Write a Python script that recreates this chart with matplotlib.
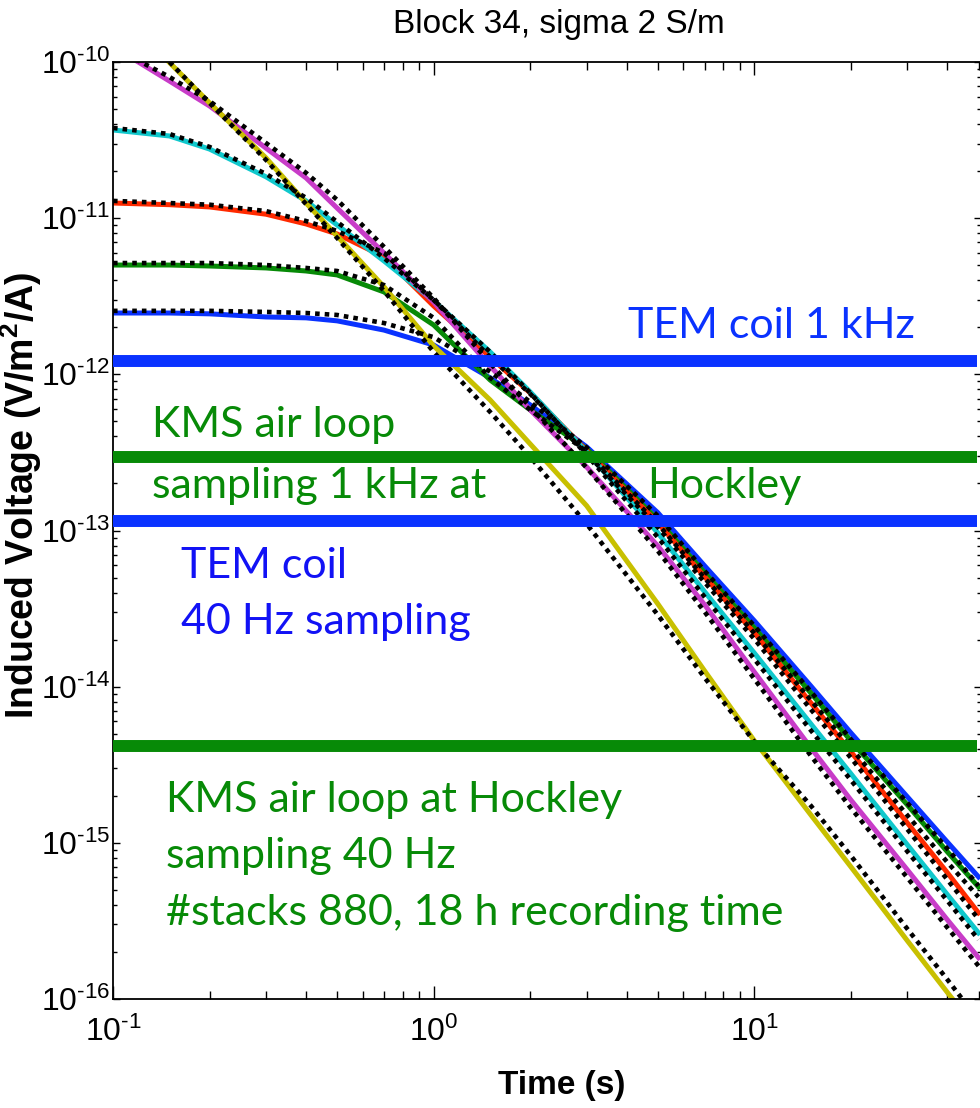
import matplotlib.pyplot as plt
from matplotlib.ticker import LogLocator, NullFormatter, FuncFormatter
import numpy as np

plt.rcParams['font.family'] = 'Liberation Sans'
plt.rcParams['mathtext.fontset'] = 'custom'
plt.rcParams['mathtext.rm'] = 'Liberation Sans'
plt.rcParams['mathtext.bf'] = 'Liberation Sans:bold'
plt.rcParams['mathtext.default'] = 'regular'

# sample times (s)
t_std = [0.1, 0.15, 0.2, 0.3, 0.4, 0.5, 0.7, 1, 1.5, 2, 3, 5, 7, 10, 15, 20, 30, 40, 50]
t_mag = [0.118, 0.15, 0.2, 0.3, 0.4, 0.5, 0.7, 1, 1.5, 2, 3, 5, 7, 10, 15, 20, 30, 40, 50]
t_yel = [0.148, 0.2, 0.3, 0.4, 0.5, 0.7, 1, 1.5, 2, 3, 5, 7, 10, 15, 20, 30, 40, 42]
t_yel_mod = [0.15, 0.2, 0.3, 0.4, 0.5, 0.7, 1, 1.5, 2, 3, 5, 7, 10, 15, 20, 30, 40, 45]

# measured decays (V/m^2/A)
v_blue = [2.47e-12, 2.47e-12, 2.44e-12, 2.33e-12, 2.30e-12, 2.20e-12, 1.92e-12, 1.54e-12, 9.49e-13,
          6.37e-13, 3.43e-13, 1.30e-13, 5.93e-14, 2.64e-14, 1.01e-14, 5.06e-15, 1.97e-15, 1.01e-15, 6.05e-16]
v_green = [5.01e-12, 5.01e-12, 4.94e-12, 4.80e-12, 4.59e-12, 4.33e-12, 3.37e-12, 2.07e-12, 9.20e-13,
           5.92e-13, 3.33e-13, 1.17e-13, 5.36e-14, 2.38e-14, 9.12e-15, 4.50e-15, 1.75e-15, 8.75e-16, 5.22e-16]
v_red = [1.25e-11, 1.22e-11, 1.18e-11, 1.06e-11, 9.18e-12, 7.92e-12, 5.65e-12, 2.74e-12, 1.29e-12,
         7.60e-13, 3.24e-13, 1.12e-13, 5.05e-14, 2.21e-14, 7.87e-15, 3.83e-15, 1.34e-15, 6.43e-16, 3.56e-16]
v_cyan = [3.67e-11, 3.36e-11, 2.77e-11, 1.84e-11, 1.29e-11, 9.04e-12, 5.32e-12, 2.95e-12, 1.39e-12,
          7.71e-13, 3.18e-13, 9.66e-14, 4.05e-14, 1.64e-14, 5.78e-15, 2.77e-15, 9.71e-16, 4.65e-16, 2.65e-16]
v_mag = [1.02e-10, 7.55e-11, 5.23e-11, 2.81e-11, 1.81e-11, 1.16e-11, 5.98e-12, 2.90e-12, 1.13e-12,
         5.92e-13, 2.55e-13, 7.96e-14, 3.34e-14, 1.24e-14, 4.06e-15, 1.88e-15, 6.71e-16, 3.21e-16, 1.84e-16]
v_yel = [1.02e-10, 5.47e-11, 2.43e-11, 1.25e-11, 7.69e-12, 3.63e-12, 1.52e-12, 6.85e-13, 3.58e-13,
         1.44e-13, 3.39e-14, 1.26e-14, 4.50e-15, 1.51e-15, 7.02e-16, 2.36e-16, 1.10e-16, 9.7e-17]

# modelled decays (dotted)
m_blue = [2.55e-12, 2.55e-12, 2.55e-12, 2.51e-12, 2.47e-12, 2.40e-12, 2.13e-12, 1.73e-12, 1.04e-12,
          6.65e-13, 3.40e-13, 1.24e-13, 5.50e-14, 2.45e-14, 9.30e-15, 4.60e-15, 1.80e-15, 9.16e-16, 5.31e-16]
m_green = [5.16e-12, 5.16e-12, 5.16e-12, 5.01e-12, 4.80e-12, 4.59e-12, 3.73e-12, 2.30e-12, 9.49e-13,
           5.92e-13, 3.20e-13, 1.10e-13, 4.95e-14, 2.20e-14, 8.20e-15, 4.05e-15, 1.50e-15, 7.50e-16, 4.50e-16]
m_red = [1.29e-11, 1.25e-11, 1.22e-11, 1.11e-11, 9.59e-12, 8.28e-12, 5.98e-12, 2.99e-12, 1.29e-12,
         7.50e-13, 3.10e-13, 1.05e-13, 4.65e-14, 2.02e-14, 7.15e-15, 3.50e-15, 1.22e-15, 5.80e-16, 3.25e-16]
m_cyan = [3.78e-11, 3.46e-11, 2.86e-11, 1.92e-11, 1.35e-11, 9.46e-12, 5.56e-12, 2.99e-12, 1.39e-12,
          7.60e-13, 3.05e-13, 9.05e-14, 3.75e-14, 1.50e-14, 5.25e-15, 2.52e-15, 8.80e-16, 4.25e-16, 2.40e-16]
m_mag = [1.04e-10, 8.02e-11, 5.62e-11, 3.03e-11, 1.95e-11, 1.31e-11, 6.55e-12, 3.08e-12, 1.18e-12,
         6.18e-13, 2.52e-13, 7.40e-14, 3.01e-14, 1.12e-14, 3.61e-15, 1.67e-15, 5.97e-16, 2.86e-16, 1.63e-16]
m_yel = [1.00e-10, 5.47e-11, 2.36e-11, 1.23e-11, 7.46e-12, 3.42e-12, 1.39e-12, 5.74e-13, 2.96e-13,
         1.10e-13, 2.88e-14, 1.14e-14, 4.44e-15, 1.73e-15, 8.26e-16, 2.81e-16, 1.33e-16, 9.7e-17]

# noise floors of the receivers
noise_levels = [1.22e-12, 2.95e-13, 1.15e-13, 4.2e-15]
noise_colors = ['#0A32FF', '#078A07', '#0A32FF', '#078A07']

BLUE, GREEN, TXT_BLUE = '#0A32FF', '#078A07', '#1212F5'

curves = [
    (t_std, v_blue, t_std, m_blue, BLUE),
    (t_std, v_green, t_std, m_green, GREEN),
    (t_std, v_red, t_std, m_red, '#FF2A00'),
    (t_std, v_cyan, t_std, m_cyan, '#10C8CC'),
    (t_mag, v_mag, t_mag, m_mag, '#C83CC8'),
    (t_yel, v_yel, t_yel_mod, m_yel, '#C8C000'),
]


def decade_label(val, pos):
    # MATLAB-style exponent with a plain hyphen
    exp = int(round(np.log10(val)))
    sign = '\u2010' if exp < 0 else ''
    return r'$10^{%s%d}$' % (sign, abs(exp))


fig = plt.figure(figsize=(9.8, 11.08), dpi=100)
ax = fig.add_axes([113 / 980, 1 - 999 / 1108, 868 / 980, 937 / 1108])

for t, v, tm, m, c in curves:
    ax.plot(t, v, color=c, lw=3.6, solid_joinstyle='round', zorder=2)
for t, v, tm, m, c in curves:
    ax.plot(tm, m, color='black', lw=3.3, linestyle=(0, (1, 1.1)), dash_capstyle='butt', zorder=3)

for lvl, c in zip(noise_levels, noise_colors):
    ax.plot([0.1, 49.4], [lvl, lvl], color=c, lw=8.6, solid_capstyle='butt', zorder=4)

ax.set_xscale('log')
ax.set_yscale('log')
ax.set_xlim(0.1, 50.9)
ax.set_ylim(1e-16, 1e-10)

ax.xaxis.set_major_locator(LogLocator(base=10, numticks=20))
ax.yaxis.set_major_locator(LogLocator(base=10, numticks=20))
ax.xaxis.set_minor_locator(LogLocator(base=10, subs=range(2, 10), numticks=100))
ax.yaxis.set_minor_locator(LogLocator(base=10, subs=range(2, 10), numticks=100))
ax.xaxis.set_major_formatter(FuncFormatter(decade_label))
ax.yaxis.set_major_formatter(FuncFormatter(decade_label))
ax.xaxis.set_minor_formatter(NullFormatter())
ax.yaxis.set_minor_formatter(NullFormatter())

ax.tick_params(which='both', direction='in', top=True, right=True, width=1.0)
ax.tick_params(axis='x', which='major', length=9.5, pad=13, labelsize=23)
ax.tick_params(axis='x', which='minor', length=5.8)
ax.tick_params(axis='y', which='major', length=5.2, pad=2, labelsize=23)
ax.tick_params(axis='y', which='minor', length=3)
for s in ax.spines.values():
    s.set_linewidth(1.3)

ax.set_xlabel('Time (s)', fontsize=24, fontweight='bold')
ax.xaxis.set_label_coords(0.517, -0.076)
ax.set_ylabel(r'Induced Voltage (V/m$^\mathbf{2}$/A)', fontsize=27, fontweight='bold')
ax.yaxis.set_label_coords(-0.079, 0.538)

fig.text(559 / 980, 1 - 33 / 1108, 'Block 34, sigma 2 S/m', fontsize=24,
         ha='center', va='baseline')

notes = [
    ('TEM coil 1 kHz', 0.593, 0.705, BLUE),
    ('KMS air loop', 0.045, 0.600, GREEN),
    ('sampling 1 kHz at', 0.045, 0.535, GREEN),
    ('Hockley', 0.615, 0.535, GREEN),
    ('TEM coil', 0.078, 0.449, TXT_BLUE),
    ('40 Hz sampling', 0.078, 0.390, TXT_BLUE),
    ('KMS air loop at Hockley', 0.061, 0.200, GREEN),
    ('sampling 40 Hz', 0.061, 0.140, GREEN),
    ('#stacks 880, 18 h recording time', 0.061, 0.079, GREEN),
]
for txt, x, y, c in notes:
    ax.text(x, y, txt, transform=ax.transAxes, fontsize=31, family='Lato',
            color=c, ha='left', va='baseline', zorder=5)

fig.savefig('out.png', dpi=100)
